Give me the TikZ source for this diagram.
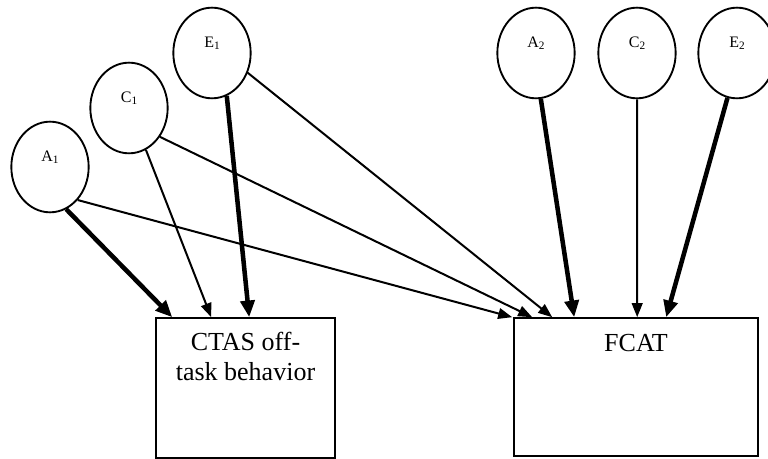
\documentclass[tikz,border=0pt]{standalone}
\usepackage{fontspec}
\setmainfont{Liberation Serif}
\usetikzlibrary{positioning}
\usetikzlibrary{calc}
\usetikzlibrary{arrows.meta}
\usetikzlibrary{shapes.geometric}

\newcommand{\fac}[2]{#1\raisebox{-1.2pt}{\fontsize{8.5}{9}\selectfont #2}}

\begin{document}
\begin{tikzpicture}[x=0.75pt, y=-0.75pt,
    latent/.style={draw, ellipse, line width=1.4pt, minimum width=58pt, minimum height=68pt, inner sep=0pt},
    obs/.style={draw, rectangle, line width=1.2pt, inner sep=0pt},
    idx/.style={font=\fontsize{12}{13}\selectfont, anchor=base, inner sep=0pt},
    boxtext/.style={font=\fontsize{19.5}{22.5}\selectfont, align=center, inner sep=0pt, anchor=north},
    thin path/.style={line width=1.5pt, -{Triangle[length=10.5pt,width=8pt]}},
    thick path/.style={line width=3.4pt, -{Triangle[length=12.5pt,width=10.5pt]}}]
    \useasboundingbox (0,0) rectangle (768,459);

    % latent factors
    \foreach \name/\x/\y/\lab/\sub in {A1/50/167/A/1, C1/129/108/C/1, E1/212/53/E/1, A2/536/53/A/2, C2/637/53/C/2, E2/737/53/E/2} {
        \node[latent] (\name) at (\x,\y) {};
        \node[idx] (\name t) at (\x,\y-5) {\fac{\lab}{\sub}};
    }

    % observed measures
    \node[obs, minimum width=134.25pt, minimum height=105pt] (ctas) at (245.5,388) {};
    \node[boxtext] (ctast) at ($(ctas.north)+(0,15)$) {CTAS off-\\task behavior};
    \node[obs, minimum width=183pt, minimum height=103.5pt] (fcat) at (636,387) {};
    \node[boxtext] (fcatt) at ($(fcat.north)+(0,17)$) {FCAT};

    \coordinate (ctasA) at ($(ctas.north west)+(17,0)$);
    \coordinate (ctasC) at ($(ctas.north west)+(56,0)$);
    \coordinate (ctasE) at ($(ctas.north west)+(94,0)$);
    \coordinate (fcatA1) at ($(fcat.north west)+(-1,0)$);
    \coordinate (fcatC1) at ($(fcat.north west)+(19,0)$);
    \coordinate (fcatE1) at ($(fcat.north west)+(39,0)$);
    \coordinate (fcatA2) at ($(fcat.north west)+(61,0)$);
    \coordinate (fcatC2) at ($(fcat.north west)+(124,0)$);
    \coordinate (fcatE2) at ($(fcat.north west)+(153,0)$);

    % paths
    \draw[thick path] (A1.-69) -- (ctasA);
    \draw[thin path] (C1.-68) -- (ctasC);
    \draw[thick path] (E1.-71) -- (ctasE);
    \draw[thin path] (A1.-50) -- (fcatA1);
    \draw[thin path] (C1.-43) -- (fcatC1);
    \draw[thin path] (E1.-29) -- (fcatE1);
    \draw[thick path] (A2.-84) -- (fcatA2);
    \draw[thin path] (C2.south) -- (fcatC2);
    \draw[thick path] (E2.-102) -- (fcatE2);
\end{tikzpicture}
\end{document}
